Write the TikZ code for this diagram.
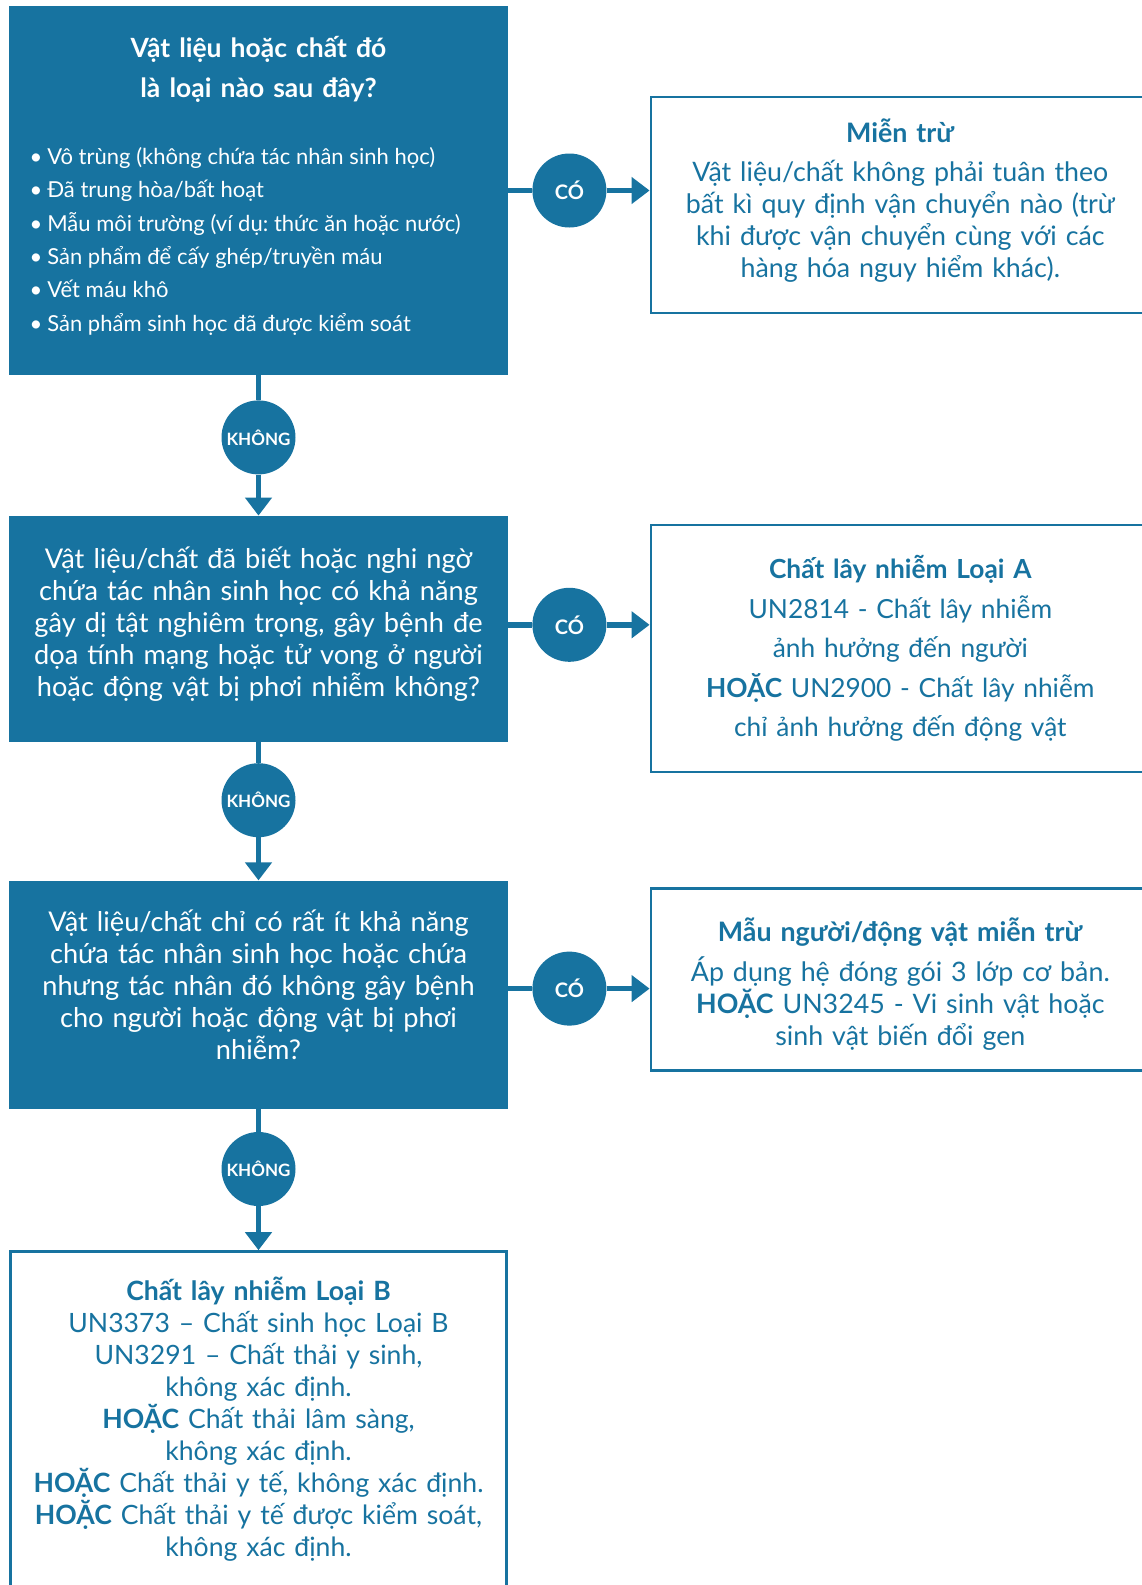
\documentclass[tikz,border=0pt]{standalone}
\usepackage{fontspec}
\setmainfont{Lato}[WordSpace=0.85]
\usepackage{xcolor}
\usetikzlibrary{
    arrows.meta,
    positioning,
}
\definecolor{flowblue}{HTML}{1773A0}
\frenchspacing

\begin{document}
\begin{tikzpicture}[
        x=1pt, y=1pt,
        question/.style={
            rectangle, fill=flowblue, text=white, inner sep=0pt,
            minimum width=499pt, text width=490pt, align=center,
            font=\fontsize{27.2}{32}\selectfont
        },
        result/.style={
            rectangle, draw=flowblue, line width=2.5pt, fill=white,
            text=flowblue, inner sep=0pt, minimum width=499pt,
            text width=490pt, align=center,
            font=\fontsize{26.8}{32}\selectfont
        },
        answer/.style={
            circle, fill=flowblue, text=white, minimum size=74pt,
            inner sep=0pt, font=\bfseries\fontsize{20}{20}\selectfont
        },
        link/.style={draw=flowblue, line width=5.5pt},
        arrow/.style={link, -{Triangle[length=18pt, width=26pt]}},
    ]
    \useasboundingbox (0,0) rectangle (1141,-1585);

    % ── Question 1 ──
    \node[question, minimum height=369pt, text width=458pt, align=left] (q1) at (258.5,-190.5) {%
        {\centering\bfseries\fontsize{26.5}{40}\selectfont Vật liệu hoặc chất đó\\là loại nào sau đây?\par}
        \vspace{34pt}
        {\fontsize{22}{33.3}\selectfont\spaceskip=0.26em plus 0.05em
        \textbullet\hspace{5pt}Vô trùng (không chứa tác nhân sinh học)\\
        \textbullet\hspace{5pt}Đã trung hòa/bất hoạt\\
        \textbullet\hspace{5pt}Mẫu môi trường (ví dụ: thức ăn hoặc nước)\\
        \textbullet\hspace{5pt}Sản phẩm để cấy ghép/truyền máu\\
        \textbullet\hspace{5pt}Vết máu khô\\
        \textbullet\hspace{5pt}Sản phẩm sinh học đã được kiểm soát\par}
        \vspace{10pt}};
    \node[answer, right=24pt of q1] (c1) {CÓ};
    \node[result, minimum height=216pt, right=43pt of c1, yshift=-14.5pt] (r1) {%
        \textbf{Miễn trừ}\\[7pt]
        Vật liệu/chất không phải tuân theo\\
        bất kì quy định vận chuyển nào (trừ\\
        khi được vận chuyển cùng với các\\
        hàng hóa nguy hiểm khác).\par\vspace{8pt}};
    \node[answer, below=25pt of q1, font=\bfseries\fontsize{17}{17}\selectfont] (n1) {KHÔNG};

    % ── Question 2 ──
    \node[question, minimum height=226pt, below=41pt of n1] (q2) {%
        Vật liệu/chất đã biết hoặc nghi ngờ\\
        chứa tác nhân sinh học có khả năng\\
        gây dị tật nghiêm trọng, gây bệnh đe\\
        dọa tính mạng hoặc tử vong ở người\\
        hoặc động vật bị phơi nhiễm không?\par\vspace{10pt}};
    \node[answer, right=24pt of q2, yshift=4pt] (c2) {CÓ};
    \node[result, minimum height=247pt, right=43pt of c2, yshift=-23.5pt,
        font=\fontsize{26.3}{39.5}\selectfont] (r2) {%
        \textbf{Chất lây nhiễm Loại A}\\
        UN2814 - Chất lây nhiễm\\
        ảnh hưởng đến người\\
        \textbf{HOẶC} UN2900 - Chất lây nhiễm\\
        chỉ ảnh hưởng đến động vật};
    \node[answer, below=21pt of q2, font=\bfseries\fontsize{17}{17}\selectfont] (n2) {KHÔNG};

    % ── Question 3 ──
    \node[question, minimum height=228pt, below=43pt of n2] (q3) {%
        Vật liệu/chất chỉ có rất ít khả năng\\
        chứa tác nhân sinh học hoặc chứa\\
        nhưng tác nhân đó không gây bệnh\\
        cho người hoặc động vật bị phơi\\
        nhiễm?\par\vspace{20pt}};
    \node[answer, right=24pt of q3, yshift=6pt] (c3) {CÓ};
    \node[result, minimum height=182pt, right=43pt of c3, yshift=9pt] (r3) {%
        \textbf{Mẫu người/động vật miễn trừ}\\[8pt]
        Áp dụng hệ đóng gói 3 lớp cơ bản.\\
        \textbf{HOẶC} UN3245 - Vi sinh vật hoặc\\
        sinh vật biến đổi gen\par\vspace{-8pt}};
    \node[answer, below=23pt of q3, font=\bfseries\fontsize{17}{17}\selectfont] (n3) {KHÔNG};

    % ── Category B ──
    \node[result, minimum width=496pt, minimum height=344pt, below=44pt of n3,
        font=\fontsize{26.6}{32}\selectfont] (catB) {%
        \textbf{Chất lây nhiễm Loại B}\\
        UN3373 – Chất sinh học Loại B\\
        UN3291 – Chất thải y sinh,\\
        không xác định.\\
        \textbf{HOẶC} Chất thải lâm sàng,\\
        không xác định.\\
        \textbf{HOẶC} Chất thải y tế, không xác định.\\
        \textbf{HOẶC} Chất thải y tế được kiểm soát,\\
        không xác định.\par\vspace{8pt}};

    % ── Arrows ──
    \draw[link] (q1) -- (c1);
    \draw[arrow] (c1) -- (c1 -| r1.west);
    \draw[link] (q2.east |- c2) -- (c2);
    \draw[arrow] (c2) -- (c2 -| r2.west);
    \draw[link] (q3.east |- c3) -- (c3);
    \draw[arrow] (c3) -- (c3 -| r3.west);
    \draw[link] (q1) -- (n1);
    \draw[arrow] (n1) -- (q2);
    \draw[link] (q2) -- (n2);
    \draw[arrow] (n2) -- (q3);
    \draw[link] (q3) -- (n3);
    \draw[arrow] (n3) -- (catB);

\end{tikzpicture}
\end{document}
